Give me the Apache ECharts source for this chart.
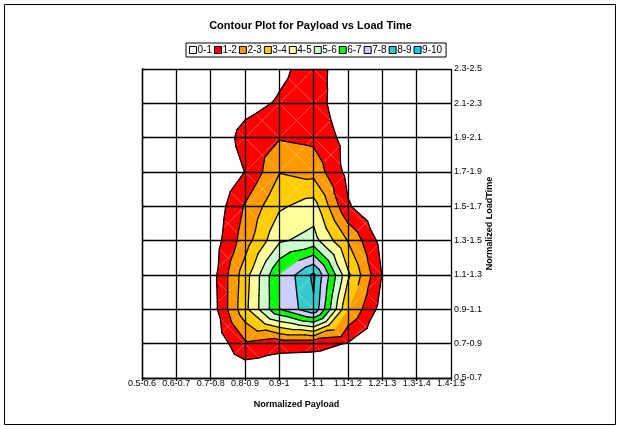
<!DOCTYPE html>
<html>
<head>
<meta charset="utf-8">
<script src="https://cdn.jsdelivr.net/npm/echarts@6/dist/echarts.min.js"></script>
<style>
  html, body { margin: 0; padding: 0; background: #fff; }
  #chart { width: 621px; height: 429px; }
</style>
</head>
<body>
<div id="chart"></div>
<script>
// Axis bins
const payloadBins = ['0.5-0.6', '0.6-0.7', '0.7-0.8', '0.8-0.9', '0.9-1', '1-1.1', '1.1-1.2', '1.2-1.3', '1.3-1.4', '1.4-1.5'];
const loadTimeBins = ['0.5-0.7', '0.7-0.9', '0.9-1.1', '1.1-1.3', '1.3-1.5', '1.5-1.7', '1.7-1.9', '1.9-2.1', '2.1-2.3', '2.3-2.5'];

// Contour bands
const bandNames = ['0-1', '1-2', '2-3', '3-4', '4-5', '5-6', '6-7', '7-8', '8-9', '9-10'];
const bandColors = ['#FFFFFF', '#FF0000', '#FF9900', '#FFCC00', '#FFFF99', '#CCFFCC', '#00FF00', '#CCCCFF', '#33CCCC', '#00CCFF'];

// Surface values per load-time row (one value per payload bin)
const lt05_07 = [0, 0, 0,    0.1,  0.1,  0.05, 0,    0,    0, 0];
const lt07_09 = [0, 0, 0.1,  1.8,  1.35, 1.3,  0.95, 0,    0, 0];
const lt09_11 = [0, 0, 0.35, 3.7,  6.95, 8.82, 3.0,  0.55, 0, 0];
const lt11_13 = [0, 0, 0.45, 3.55, 7.0,  9.2,  4.2,  0.95, 0, 0];
const lt13_15 = [0, 0, 0.3,  2.5,  4.85, 5.4,  2.95, 0.6,  0, 0];
const lt15_17 = [0, 0, 0.14, 2.1,  3.85, 4.45, 1.1,  0,    0, 0];
const lt17_19 = [0, 0, 0,    1.02, 2.95, 2.65, 0.68, 0,    0, 0];
const lt19_21 = [0, 0, 0,    1.43, 1.93, 1.75, 0.63, 0,    0, 0];
const lt21_23 = [0, 0, 0,    0.59, 1.13, 1.6,  0.06, 0,    0, 0];
const lt23_25 = [0, 0, 0,    0,    0.74, 1.5,  0.28, 0,    0, 0];

const zRows = [lt05_07, lt07_09, lt09_11, lt11_13, lt13_15, lt15_17, lt17_19, lt19_21, lt21_23, lt23_25];

// One item per grid cell: [col, row, z(bl), z(br), z(tr), z(tl)]
const cells = [];
for (let j = 0; j < zRows.length - 1; j++) {
  for (let i = 0; i < payloadBins.length - 1; i++) {
    cells.push([i, j, zRows[j][i], zRows[j][i + 1], zRows[j + 1][i + 1], zRows[j + 1][i]]);
  }
}

// Each cell is split into four triangles around its centre (mean of corners)
function cellTriangles(api) {
  const i = api.value(0), j = api.value(1);
  const a = api.value(2), b = api.value(3), c = api.value(4), d = api.value(5);
  const m = (a + b + c + d) / 4;
  const P = [[i, j, a], [i + 1, j, b], [i + 1, j + 1, c], [i, j + 1, d]];
  const C = [i + 0.5, j + 0.5, m];
  return [0, 1, 2, 3].map(k => [P[k], P[(k + 1) % 4], C]);
}

// Keep the part of a planar polygon above (or below) a level
function clipLevel(poly, level, keepAbove) {
  const out = [];
  for (let k = 0; k < poly.length; k++) {
    const p = poly[k], q = poly[(k + 1) % poly.length];
    const ip = keepAbove ? p[2] >= level : p[2] <= level;
    const iq = keepAbove ? q[2] >= level : q[2] <= level;
    if (ip) out.push(p);
    if (ip !== iq) {
      const t = (level - p[2]) / (q[2] - p[2]);
      out.push([p[0] + t * (q[0] - p[0]), p[1] + t * (q[1] - p[1]), level]);
    }
  }
  return out;
}

function bandRenderer(b) {
  return function (params, api) {
    const children = [];
    cellTriangles(api).forEach(tri => {
      let poly = clipLevel(tri, b, true);
      if (b < bandNames.length - 1) poly = clipLevel(poly, b + 1, false);
      if (poly.length >= 3) {
        children.push({
          type: 'polygon',
          shape: { points: poly.map(p => api.coord([p[0], p[1]])) },
          style: { fill: bandColors[b], stroke: bandColors[b], lineWidth: 0.7 },
          silent: true
        });
      }
    });
    return { type: 'group', children };
  };
}

// Faint triangulation diagonals
function diagonalRenderer(params, api) {
  const i = api.value(0), j = api.value(1);
  const p00 = api.coord([i, j]), p11 = api.coord([i + 1, j + 1]);
  const p10 = api.coord([i + 1, j]), p01 = api.coord([i, j + 1]);
  const st = { stroke: 'rgba(255,255,255,0.35)', lineWidth: 0.8 };
  return {
    type: 'group',
    children: [
      { type: 'line', shape: { x1: p00[0], y1: p00[1], x2: p11[0], y2: p11[1] }, style: st, silent: true },
      { type: 'line', shape: { x1: p10[0], y1: p10[1], x2: p01[0], y2: p01[1] }, style: st, silent: true }
    ]
  };
}

// Black contour lines at each integer level
function contourRenderer(params, api) {
  const children = [];
  cellTriangles(api).forEach(tri => {
    for (let L = 1; L < bandNames.length; L++) {
      const pts = [];
      for (let k = 0; k < 3; k++) {
        const p = tri[k], q = tri[(k + 1) % 3];
        if ((p[2] - L) * (q[2] - L) < 0) {
          const t = (L - p[2]) / (q[2] - p[2]);
          pts.push(api.coord([p[0] + t * (q[0] - p[0]), p[1] + t * (q[1] - p[1])]));
        }
      }
      if (pts.length === 2) {
        children.push({
          type: 'line',
          shape: { x1: pts[0][0], y1: pts[0][1], x2: pts[1][0], y2: pts[1][1] },
          style: { stroke: '#000', lineWidth: 1.3, lineCap: 'round' },
          silent: true
        });
      }
    }
  });
  return { type: 'group', children };
}

const FONT = 'Liberation Sans, Arial, sans-serif';

const series = bandNames.map((name, b) => ({
  type: 'custom',
  name: name,
  data: cells,
  encode: { x: 0, y: 1 },
  renderItem: bandRenderer(b),
  itemStyle: { color: bandColors[b] },
  clip: true,
  z: 1
}));
series.push({
  type: 'custom', name: 'diagonals', data: cells, encode: { x: 0, y: 1 },
  renderItem: diagonalRenderer, clip: true, z: 2
});
series.push({
  type: 'custom', name: 'contours', data: cells, encode: { x: 0, y: 1 },
  renderItem: contourRenderer, clip: true, z: 6
});

const gridLine = { show: true, lineStyle: { color: '#000', width: 1.3 } };

const chart = echarts.init(document.getElementById('chart'), null, { renderer: 'canvas' });
chart.setOption({
  animation: false,
  backgroundColor: '#fff',
  title: {
    text: 'Contour Plot for Payload vs Load Time',
    left: 'center',
    top: 15,
    textStyle: { fontFamily: FONT, fontSize: 11, fontWeight: 'bold', color: '#000' }
  },
  legend: {
    data: bandNames,
    left: 186,
    top: 43,
    icon: 'rect',
    itemWidth: 7,
    itemHeight: 7,
    itemGap: 2,
    padding: [2, 4, 2, 3],
    borderColor: '#000',
    borderWidth: 1,
    itemStyle: { borderColor: '#000', borderWidth: 1 },
    textStyle: { fontFamily: FONT, fontSize: 10, color: '#000', padding: [0, 0, 0, -4] },
    selectedMode: false
  },
  grid: { left: 142, top: 69, width: 309, height: 309, containLabel: false },
  xAxis: {
    type: 'value', min: 0, max: 9, interval: 1, position: 'bottom', z: 5,
    axisLine: { show: true, lineStyle: { color: '#000', width: 1.3 } },
    axisTick: { show: true, length: 3, lineStyle: { color: '#000', width: 1.3 } },
    axisLabel: {
      formatter: v => payloadBins[v], fontFamily: FONT, fontSize: 9, color: '#000',
      margin: 1, showMinLabel: true, showMaxLabel: true
    },
    splitLine: gridLine,
    name: 'Normalized Payload',
    nameLocation: 'middle',
    nameGap: 22,
    nameMoveOverlap: false,
    nameTextStyle: { fontFamily: FONT, fontSize: 9, fontWeight: 'bold', color: '#000' }
  },
  yAxis: {
    type: 'value', min: 0, max: 9, interval: 1, position: 'right', z: 5,
    axisLine: { show: true, lineStyle: { color: '#000', width: 1.3 } },
    axisTick: { show: true, length: 3, lineStyle: { color: '#000', width: 1.3 } },
    axisLabel: {
      formatter: v => loadTimeBins[v], fontFamily: FONT, fontSize: 9, color: '#000',
      margin: 3, showMinLabel: true, showMaxLabel: true
    },
    splitLine: gridLine,
    name: 'Normalized LoadTime',
    nameLocation: 'middle',
    nameRotate: 90,
    nameGap: 34,
    nameMoveOverlap: false,
    nameTextStyle: { fontFamily: FONT, fontSize: 9, fontWeight: 'bold', color: '#000' }
  },
  graphic: [{
    type: 'rect',
    shape: { x: 4.5, y: 4.5, width: 611, height: 420 },
    style: { fill: 'none', stroke: '#000', lineWidth: 1 },
    silent: true,
    z: 0
  }],
  series: series
});
</script>
</body>
</html>
